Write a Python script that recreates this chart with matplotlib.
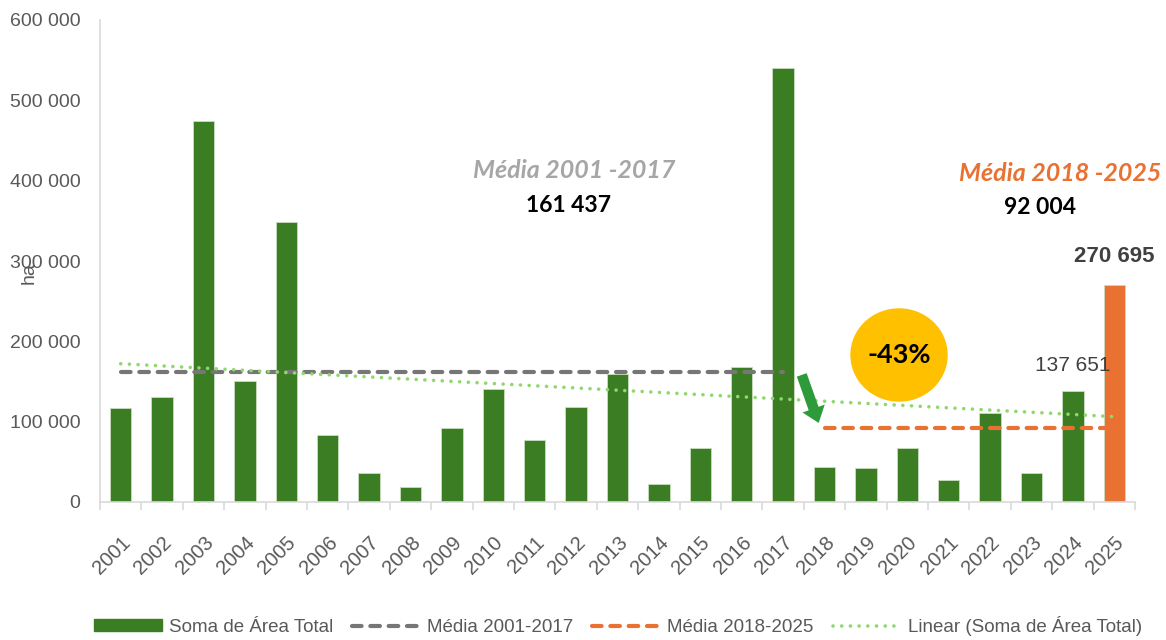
import numpy as np
import matplotlib
matplotlib.use('Agg')
from matplotlib import pyplot as plt
from matplotlib.patches import Ellipse
from matplotlib.lines import Line2D
from matplotlib.patches import Patch

years = [str(y) for y in range(2001, 2026)]
area = [116700, 130400, 474000, 151000, 348500, 83400, 35700, 19100, 91800, 140700,
        76800, 117900, 159800, 22000, 66900, 167700, 540800,
        44000, 42500, 67500, 28000, 110500, 35500, 137651, 270695]
mean_2001_2017 = 161437
mean_2018_2025 = 92004

GREEN = '#3B7D23'
ORANGE = '#E97132'
GRAY_TXT = '#595959'
TREND = '#8ED86C'

plt.rcParams['font.family'] = ['Liberation Sans', 'DejaVu Sans']

fig = plt.figure(figsize=(11.66, 6.4), dpi=100)
ax = fig.add_axes([100 / 1166, 138 / 640, 1035 / 1166, 482 / 640])

x = np.arange(len(years))
colors = [GREEN] * (len(years) - 1) + [ORANGE]
ax.bar(x, area, width=0.52, color=colors, edgecolor='#C9DDBF', linewidth=0.6, zorder=2)

# médias por período
i17 = years.index('2017')
ax.plot(x[:i17 + 1], [mean_2001_2017] * (i17 + 1), color='#767676', lw=3.0,
        dashes=(2.3, 2.1), dash_capstyle='round', zorder=3)
ax.plot(x[i17 + 1:], [mean_2018_2025] * (len(years) - i17 - 1), color=ORANGE, lw=3.0,
        dashes=(2.3, 2.1), dash_capstyle='round', zorder=3)

# tendência linear
coef = np.polyfit(x, area, 1)
ax.plot(x, np.polyval(coef, x), color=TREND, lw=2.6, linestyle=(0, (0.01, 2.4)),
        dash_capstyle='round', zorder=3)

ax.set_xlim(-0.5, len(years) - 0.5)
ax.set_ylim(0, 600000)
ax.set_yticks(np.arange(0, 600001, 100000))
ax.set_yticklabels([f'{int(v):,}'.replace(',', ' ') for v in np.arange(0, 600001, 100000)],
                   fontsize=14, color=GRAY_TXT)
ax.tick_params(axis='y', length=0, pad=14)
ax.set_xticks(x)
ax.set_xticklabels(years, rotation=45, ha='right', rotation_mode='anchor',
                   fontsize=14.5, color=GRAY_TXT)
ax.tick_params(axis='x', length=0, pad=22)
ax.set_xticks(np.arange(-0.5, len(years)), minor=True)
ax.tick_params(axis='x', which='minor', length=6, color='#D9D9D9', width=1.2)
for s in ['top', 'right']:
    ax.spines[s].set_visible(False)
ax.spines['left'].set_color('#D9D9D9')
ax.spines['bottom'].set_color('#D9D9D9')
ax.spines['left'].set_linewidth(1.2)
ax.spines['bottom'].set_linewidth(1.2)
ax.set_ylabel('ha', fontsize=14, color=GRAY_TXT)
ax.yaxis.set_label_coords(-62 / 1035, 0.475)

# anotações
ax.text(10.95, 413000, 'Média 2001 -2017', fontsize=18, fontweight='bold', style='italic',
        color='#A6A6A6', ha='center', va='center', family=['Lato', 'DejaVu Sans'])
ax.text(10.82, 369000, '161 437', fontsize=16.5, fontweight='bold', color='black',
        ha='center', va='center', family=['Lato', 'DejaVu Sans'])
ax.text(22.7, 409000, 'Média 2018 -2025', fontsize=18, fontweight='bold', style='italic',
        color=ORANGE, ha='center', va='center', family=['Lato', 'DejaVu Sans'])
ax.text(22.2, 366000, '92 004', fontsize=16.5, fontweight='bold', color='black',
        ha='center', va='center', family=['Lato', 'DejaVu Sans'])
ax.text(24.0, 306000, '270 695', fontsize=16, fontweight='bold', color='#404040',
        ha='center', va='center')
ax.text(23.0, 170000, '137 651', fontsize=15, color='#404040', ha='center', va='center')

ax.add_patch(Ellipse((18.8, 183000), 96 / 41.4, 92 / 80.3 * 100000, color='#FFC000', zorder=4))
ax.text(18.8, 183000, '-43%', fontsize=19.5, fontweight='bold', color='black', ha='center',
        va='center', zorder=5, family=['Lato', 'DejaVu Sans'])
ax.annotate('', xy=(16.86, 98400), xytext=(16.45, 158200),
            arrowprops=dict(arrowstyle='simple,head_width=1.7,head_length=1.1,tail_width=0.75',
                            color='#2E9B3A', lw=0, mutation_scale=10, shrinkA=0, shrinkB=0),
            zorder=5)

handles = [Patch(color=GREEN),
           Line2D([], [], color='#767676', lw=3.0, dashes=(2.3, 2.1), dash_capstyle='round'),
           Line2D([], [], color=ORANGE, lw=3.0, dashes=(2.3, 2.1), dash_capstyle='round'),
           Line2D([], [], color=TREND, lw=2.6, linestyle=(0, (0.01, 2.4)), dash_capstyle='round')]
labels = ['Soma de Área Total', 'Média 2001-2017', 'Média 2018-2025', 'Linear (Soma de Área Total)']
fig.legend(handles, labels, loc='center', bbox_to_anchor=(618 / 1166, 14 / 640), ncol=4,
           frameon=False, fontsize=13.5, handlelength=3.6, handleheight=0.6, handletextpad=0.4,
           columnspacing=1.0, labelcolor=GRAY_TXT)

fig.savefig('out.png', dpi=100)
